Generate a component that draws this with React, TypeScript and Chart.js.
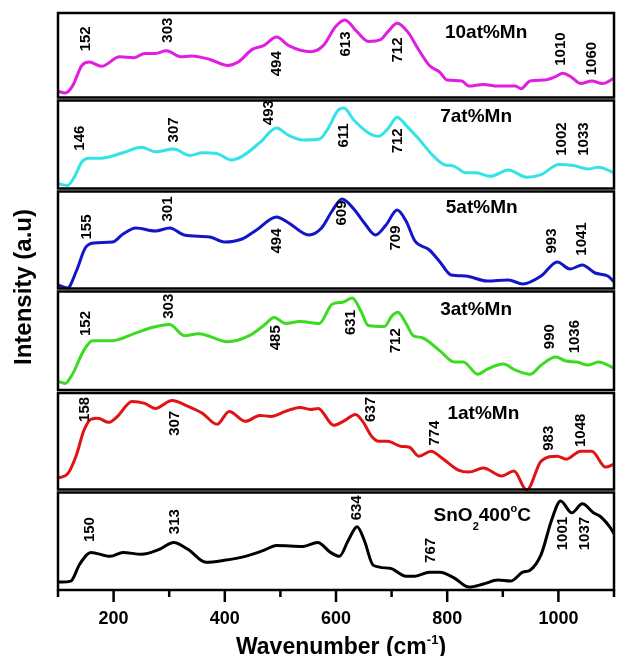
import React, { useEffect, useRef } from 'react';
import { Chart, registerables } from 'chart.js';

Chart.register(...registerables);

const FONT = '"Liberation Sans", Arial, Helvetica, sans-serif';

// ---- axis ----
const xTickValues = [100, 200, 300, 400, 500, 600, 700, 800, 900, 1000, 1100];
const xLabeledTicks = [200, 400, 600, 800, 1000];
const xTitle = 'Wavenumber (cm⁻¹)';
const yTitle = 'Intensity (a.u)';

// ---- samples (top to bottom) ----
const sampleNames = ['10at%Mn', '7at%Mn', '5at%Mn', '3at%Mn', '1at%Mn', 'SnO₂400°C'];
const lineColors = ['#E11DE1', '#33E3E6', '#1414C8', '#3BDB1F', '#E01414', '#000000'];
const nameX = [870, 852, 862, 852, 865, 863];
const nameY = [78.5, 82, 84, 82, 79, 77];
const panelWeights = [86, 91, 100, 101.5, 99.5, 99];

// 10at%Mn
const mn10X = [100, 113, 126, 143, 156, 178, 211, 237, 256, 275, 295, 321, 340, 373, 405, 424, 450, 470, 493, 515, 554, 577, 599, 616, 638, 658, 680, 693, 710, 729, 749, 768, 787, 800, 826, 839, 865, 891, 923, 933, 949, 975, 995, 1008, 1024, 1040, 1060, 1079, 1100];
const mn10Y = [9, 7, 15, 39, 43, 38, 49, 48, 53, 53, 56, 49, 50, 46, 39, 43, 58, 62, 72, 62, 55, 62, 84, 92, 78, 67, 69, 78, 88, 78, 57, 39, 31, 22, 21, 15, 17, 15, 15, 12, 21, 22, 26, 30, 25, 18, 21, 18, 24];
const mn10Peaks = ['152', '303', '494', '613', '712', '1010', '1060'];
const mn10PeakX = [150, 298, 494, 618, 711, 1004, 1060];
const mn10PeakY = [70, 80, 41, 64, 57, 58, 47];

// 7at%Mn
const mn7X = [100, 117, 130, 143, 156, 178, 217, 250, 275, 308, 337, 360, 386, 412, 431, 463, 493, 515, 541, 570, 586, 603, 614, 632, 658, 677, 693, 710, 726, 749, 774, 794, 813, 833, 852, 878, 910, 943, 969, 1001, 1027, 1053, 1072, 1100];
const mn7Y = [7, 5, 15, 31, 35, 35, 41, 47, 42, 45, 38, 41, 40, 33, 37, 52, 68, 60, 55, 56, 68, 87, 90, 77, 63, 59, 67, 80, 71, 56, 38, 28, 26, 19, 19, 15, 22, 14, 17, 28, 27, 23, 25, 19];
const mn7Peaks = ['146', '307', '493', '611', '712', '1002', '1033'];
const mn7PeakX = [139, 308, 480, 614, 711, 1006, 1045];
const mn7PeakY = [57, 66, 85, 60, 54, 56, 56];

// 5at%Mn
const mn5X = [100, 117, 133, 149, 165, 198, 217, 240, 275, 301, 327, 373, 399, 431, 457, 493, 515, 551, 574, 593, 611, 632, 651, 671, 690, 710, 726, 742, 768, 787, 807, 833, 872, 910, 936, 969, 998, 1021, 1043, 1066, 1089, 1100];
const mn5Y = [5, 2, 19, 42, 47, 48, 56, 62, 59, 62, 55, 53, 48, 51, 60, 73, 67, 55, 62, 79, 91, 81, 67, 55, 65, 80, 69, 49, 40, 28, 15, 14, 9, 10, 6, 14, 28, 21, 25, 17, 14, 8];
const mn5Peaks = ['155', '301', '494', '609', '709', '993', '1041'];
const mn5PeakX = [152, 298, 494, 611, 708, 988, 1043];
const mn5PeakY = [63, 81, 49, 77, 52, 49, 51];

// 3at%Mn
const mn3X = [100, 113, 126, 146, 162, 198, 237, 269, 301, 327, 353, 405, 444, 470, 489, 509, 535, 570, 593, 612, 629, 645, 658, 687, 700, 711, 726, 739, 755, 787, 813, 829, 855, 872, 901, 923, 949, 969, 995, 1014, 1034, 1053, 1072, 1100];
const mn3Y = [10, 8, 17, 40, 50, 50, 57, 63, 66, 55, 57, 49, 55, 65, 73, 67, 69, 67, 86, 88, 92, 79, 65, 64, 74, 78, 67, 55, 53, 40, 29, 29, 17, 22, 27, 21, 17, 26, 34, 30, 29, 26, 29, 23];
const mn3Peaks = ['152', '303', '485', '631', '712', '990', '1036'];
const mn3PeakX = [150, 300, 491, 627, 708, 985, 1030];
const mn3PeakY = [67, 84, 53, 68, 50, 54, 54];

// 1at%Mn
const mn1X = [100, 117, 133, 146, 159, 172, 191, 207, 233, 256, 275, 305, 334, 360, 386, 408, 437, 463, 483, 509, 535, 554, 568, 596, 616, 635, 648, 664, 677, 693, 716, 732, 749, 771, 791, 820, 839, 865, 898, 920, 943, 969, 998, 1014, 1040, 1060, 1085, 1100];
const mn1Y = [13, 17, 36, 60, 72, 73, 69, 75, 90, 88, 83, 91, 85, 78, 67, 80, 70, 76, 75, 80, 84, 82, 83, 66, 71, 77, 70, 55, 50, 50, 45, 44, 35, 40, 33, 21, 19, 23, 15, 20, 1, 30, 35, 32, 40, 40, 24, 27];
const mn1Peaks = ['158', '307', '637', '774', '983', '1048'];
const mn1PeakX = [149, 311, 663, 778, 982, 1040];
const mn1PeakY = [82, 68, 82, 58, 53, 61];

// SnO2 400°C
const sno2X = [100, 107, 123, 139, 159, 194, 217, 250, 282, 308, 334, 366, 399, 437, 470, 493, 541, 567, 590, 606, 622, 638, 651, 667, 697, 726, 742, 768, 787, 813, 839, 865, 891, 914, 936, 949, 969, 988, 1004, 1024, 1043, 1063, 1076, 1092, 1100];
const sno2Y = [8, 8, 9, 26, 38, 34, 38, 36, 41, 48, 41, 28, 30, 34, 40, 45, 44, 48, 38, 34, 50, 64, 50, 25, 22, 14, 14, 18, 18, 12, 3, 6, 10, 9, 18, 20, 36, 71, 90, 78, 87, 78, 74, 64, 57];
const sno2Peaks = ['150', '313', '634', '767', '1001', '1037'];
const sno2PeakX = [157, 311, 638, 771, 1008, 1047];
const sno2PeakY = [61, 69, 83, 40, 57, 57];

const seriesX = [mn10X, mn7X, mn5X, mn3X, mn1X, sno2X];
const seriesY = [mn10Y, mn7Y, mn5Y, mn3Y, mn1Y, sno2Y];
const peakLabels = [mn10Peaks, mn7Peaks, mn5Peaks, mn3Peaks, mn1Peaks, sno2Peaks];
const peakXs = [mn10PeakX, mn7PeakX, mn5PeakX, mn3PeakX, mn1PeakX, sno2PeakX];
const peakYs = [mn10PeakY, mn7PeakY, mn5PeakY, mn3PeakY, mn1PeakY, sno2PeakY];

type Seg = { t: string; k: 0 | 1 | 2 };
const SPECIAL: Record<string, Seg> = {
  '₂': { t: '2', k: 1 },
  '°': { t: 'o', k: 2 },
  '⁻': { t: '-', k: 2 },
  '¹': { t: '1', k: 2 },
};
function parseRich(text: string): Seg[] {
  const out: Seg[] = [];
  for (const ch of Array.from(text)) {
    const s = SPECIAL[ch] || { t: ch, k: 0 as 0 };
    const last = out[out.length - 1];
    if (last && last.k === s.k) last.t += s.t;
    else out.push({ t: s.t, k: s.k });
  }
  return out;
}
function drawRich(ctx: CanvasRenderingContext2D, text: string, cx: number, baseline: number, size: number, subDrop: number, supRise: number) {
  const segs = parseRich(text);
  const fontFor = (k: number) => `bold ${k === 0 ? size : Math.round(size * 0.56)}px ${FONT}`;
  let total = 0;
  for (const s of segs) {
    ctx.font = fontFor(s.k);
    total += ctx.measureText(s.t).width;
  }
  let x = cx - total / 2;
  ctx.textAlign = 'left';
  ctx.textBaseline = 'alphabetic';
  for (const s of segs) {
    ctx.font = fontFor(s.k);
    const dy = s.k === 1 ? subDrop : s.k === 2 ? -supRise : 0;
    ctx.fillText(s.t, x, baseline + dy);
    x += ctx.measureText(s.t).width;
  }
}

const panelPlugin = {
  id: 'panelDecor',
  afterDraw(chart: any) {
    const ctx: CanvasRenderingContext2D = chart.ctx;
    const xs = chart.scales.x;
    const { left, right, bottom } = chart.chartArea;
    const n = sampleNames.length;
    ctx.save();
    for (let i = 0; i < n; i++) {
      const ys = chart.scales['y' + i];
      const top = ys.top + (i === 0 ? 0 : 1.5);
      const bot = ys.bottom - (i === n - 1 ? 0 : 1.5);
      ctx.lineWidth = 2.5;
      ctx.strokeStyle = '#000';
      ctx.strokeRect(left, top, right - left, bot - top);

      ctx.fillStyle = '#000';
      ctx.font = `bold 15px ${FONT}`;
      ctx.textAlign = 'center';
      ctx.textBaseline = 'middle';
      peakLabels[i].forEach((t, k) => {
        const px = xs.getPixelForValue(peakXs[i][k]);
        const py = ys.getPixelForValue(peakYs[i][k]);
        ctx.save();
        ctx.translate(px, py);
        ctx.rotate(-Math.PI / 2);
        ctx.fillText(t, 0, 0);
        ctx.restore();
      });

      const nx = xs.getPixelForValue(nameX[i]);
      const ny = ys.getPixelForValue(nameY[i]);
      drawRich(ctx, sampleNames[i], nx, ny + 0.36 * 19, 19, 9, 9);
    }

    // ticks
    ctx.strokeStyle = '#000';
    ctx.lineWidth = 2.5;
    for (const v of xTickValues) {
      const px = xs.getPixelForValue(v);
      const len = xLabeledTicks.includes(v) ? 12 : 7;
      ctx.beginPath();
      ctx.moveTo(px, bottom);
      ctx.lineTo(px, bottom + len);
      ctx.stroke();
    }

    // titles
    ctx.fillStyle = '#000';
    drawRich(ctx, xTitle, (left + right) / 2 + 5, 654, 23, 10, 10.5);

    ctx.save();
    ctx.translate(24, 287);
    ctx.rotate(-Math.PI / 2);
    ctx.font = `bold 24px ${FONT}`;
    ctx.textAlign = 'center';
    ctx.textBaseline = 'middle';
    ctx.fillText(yTitle, 0, 0);
    ctx.restore();

    ctx.restore();
  },
};

export default function App() {
  const ref = useRef<HTMLCanvasElement | null>(null);

  useEffect(() => {
    const canvas = ref.current;
    if (!canvas) return;
    const n = sampleNames.length;
    const scales: any = {
      x: {
        type: 'linear',
        position: 'bottom',
        min: 100,
        max: 1100,
        afterBuildTicks: (s: any) => {
          s.ticks = xTickValues.map((v) => ({ value: v }));
        },
        afterFit: (s: any) => {
          s.height = 66;
        },
        ticks: {
          autoSkip: false,
          maxRotation: 0,
          padding: 6,
          color: '#000',
          font: { family: FONT, size: 18, weight: 'bold' },
          callback: (v: any) => (xLabeledTicks.includes(Number(v)) ? String(v) : ''),
        },
        grid: { display: true, drawOnChartArea: false, drawTicks: true, tickLength: 12, tickColor: 'rgba(0,0,0,0)' },
        border: { display: false },
      },
    };
    for (let i = 0; i < n; i++) {
      scales['y' + i] = {
        type: 'linear',
        position: 'left',
        stack: 'panels',
        stackWeight: panelWeights[i],
        weight: n - i,
        min: 0,
        max: 100,
        ticks: { display: false },
        grid: { display: false },
        border: { display: false },
        afterFit: (s: any) => {
          s.width = 58;
        },
      };
    }
    const datasets = seriesX.map((xsArr, i) => ({
      label: sampleNames[i],
      data: xsArr.map((x, k) => ({ x, y: seriesY[i][k] })),
      xAxisID: 'x',
      yAxisID: 'y' + i,
      borderColor: lineColors[i],
      borderWidth: 3,
      pointRadius: 0,
      fill: false,
      cubicInterpolationMode: 'monotone',
    }));
    const chart = new Chart(canvas, {
      type: 'line',
      data: { datasets: datasets as any },
      options: {
        animation: false,
        responsive: false,
        devicePixelRatio: 1,
        layout: { padding: { top: 13, right: 2, left: 0, bottom: 0 } },
        plugins: { legend: { display: false }, tooltip: { enabled: false } },
        scales,
      } as any,
      plugins: [panelPlugin],
    });
    return () => chart.destroy();
  }, []);

  return (
    <div style={{ position: 'absolute', left: 0, top: 0, width: 620, height: 656, background: '#fff' }}>
      <canvas ref={ref} width={620} height={656} style={{ display: 'block', width: 620, height: 656 }} />
    </div>
  );
}
